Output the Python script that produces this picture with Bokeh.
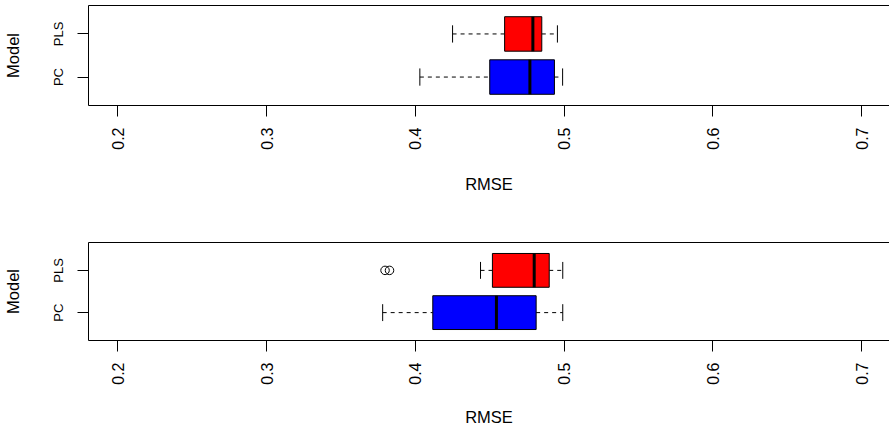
import math
from bokeh.plotting import figure
from bokeh.layouts import column
from bokeh.models import Range1d, FactorRange, FixedTicker, LinearAxis, ColumnDataSource
from bokeh.transform import dodge
from bokeh.embed import file_html
from bokeh.resources import INLINE

# ---- data ----
categories = ["PC", "PLS"]
box_colors = ["#0000FF", "#FF0000"]
x_ticks = [0.2, 0.3, 0.4, 0.5, 0.6, 0.7]
x_label = "RMSE"
y_label = "Model"

# panel 1 (top)
p1_lower = [0.403, 0.425]
p1_q1 = [0.450, 0.460]
p1_median = [0.477, 0.479]
p1_q3 = [0.4935, 0.485]
p1_upper = [0.499, 0.4955]
p1_out_cat = []
p1_out_val = []

# panel 2 (bottom)
p2_lower = [0.378, 0.4438]
p2_q1 = [0.4117, 0.4518]
p2_median = [0.4545, 0.4799]
p2_q3 = [0.4812, 0.4900]
p2_upper = [0.4991, 0.4991]
p2_out_cat = ["PLS", "PLS"]
p2_out_val = [0.3796, 0.3826]

FONT = "Liberation Sans"


def make_panel(lower, q1, med, q3, upper, out_cat, out_val,
               height, top, bottom, xlab_standoff):
    yr = FactorRange(factors=categories, range_padding=0.16,
                     range_padding_units="absolute")
    p = figure(width=889, height=height, x_range=Range1d(0.1802, 0.7188),
               y_range=yr, output_backend="svg", toolbar_location=None,
               min_border_left=88, min_border_right=0,
               min_border_top=top, min_border_bottom=bottom)
    p.outline_line_color = None
    p.background_fill_color = "white"
    p.border_fill_color = "white"
    p.xgrid.visible = False
    p.ygrid.visible = False

    src = ColumnDataSource(dict(cat=categories, lower=lower, q1=q1, med=med,
                                q3=q3, upper=upper, color=box_colors))

    # whiskers
    p.segment(x0="lower", y0="cat", x1="q1", y1="cat", source=src,
              line_color="black", line_width=1, line_dash="4 4")
    p.segment(x0="q3", y0="cat", x1="upper", y1="cat", source=src,
              line_color="black", line_width=1, line_dash="4 4")
    # boxes
    p.hbar(y="cat", left="q1", right="q3", height=0.8, source=src,
           fill_color="color", line_color="black", line_width=1)
    # medians
    p.segment(x0="med", y0=dodge("cat", -0.4, range=yr),
              x1="med", y1=dodge("cat", 0.4, range=yr), source=src,
              line_color="black", line_width=3, line_cap="butt")
    # staples
    for f in ["lower", "upper"]:
        p.segment(x0=f, y0=dodge("cat", -0.2, range=yr),
                  x1=f, y1=dodge("cat", 0.2, range=yr), source=src,
                  line_color="black", line_width=1)
    # outliers
    if out_val:
        osrc = ColumnDataSource(dict(cat=out_cat, val=out_val))
        p.scatter(x="val", y="cat", source=osrc, marker="circle", size=8.5,
                  fill_color=None, line_color="black", line_width=1)

    # x axis
    xa = p.xaxis[0]
    xa.ticker = FixedTicker(ticks=x_ticks)
    xa.minor_tick_line_color = None
    xa.major_tick_out = 11
    xa.major_tick_in = 0
    xa.major_label_orientation = math.pi / 2
    xa.major_label_standoff = 11
    xa.major_label_text_font = FONT
    xa.major_label_text_font_size = "16px"
    xa.major_label_text_color = "black"
    xa.axis_label = x_label
    xa.axis_label_text_font = FONT
    xa.axis_label_text_font_size = "16.5px"
    xa.axis_label_text_font_style = "normal"
    xa.axis_label_text_color = "black"
    xa.axis_label_standoff = xlab_standoff
    xa.axis_line_color = "black"
    xa.major_tick_line_color = "black"

    # y axis
    ya = p.yaxis[0]
    ya.major_tick_out = 11
    ya.major_tick_in = 0
    ya.major_label_orientation = "vertical"
    ya.major_label_standoff = 11
    ya.major_label_text_font = FONT
    ya.major_label_text_font_size = "13px"
    ya.major_label_text_color = "black"
    ya.axis_label = y_label
    ya.axis_label_text_font = FONT
    ya.axis_label_text_font_size = "16.5px"
    ya.axis_label_text_font_style = "normal"
    ya.axis_label_text_color = "black"
    ya.axis_label_standoff = 27
    ya.axis_line_color = "black"
    ya.major_tick_line_color = "black"

    # top border of the plot box
    ta = LinearAxis(ticker=FixedTicker(ticks=[]), major_tick_out=0,
                    major_tick_in=0, minor_tick_out=0, minor_tick_in=0,
                    major_label_standoff=0, axis_line_color="black")
    p.add_layout(ta, "above")
    return p


p1 = make_panel(p1_lower, p1_q1, p1_median, p1_q3, p1_upper,
                p1_out_cat, p1_out_val, height=200, top=5, bottom=95,
                xlab_standoff=22)
p2 = make_panel(p2_lower, p2_q1, p2_median, p2_q3, p2_upper,
                p2_out_cat, p2_out_val, height=228, top=42, bottom=86,
                xlab_standoff=20)

layout = column(p1, p2, spacing=0)
open("out.html", "w").write(file_html(layout, INLINE))
